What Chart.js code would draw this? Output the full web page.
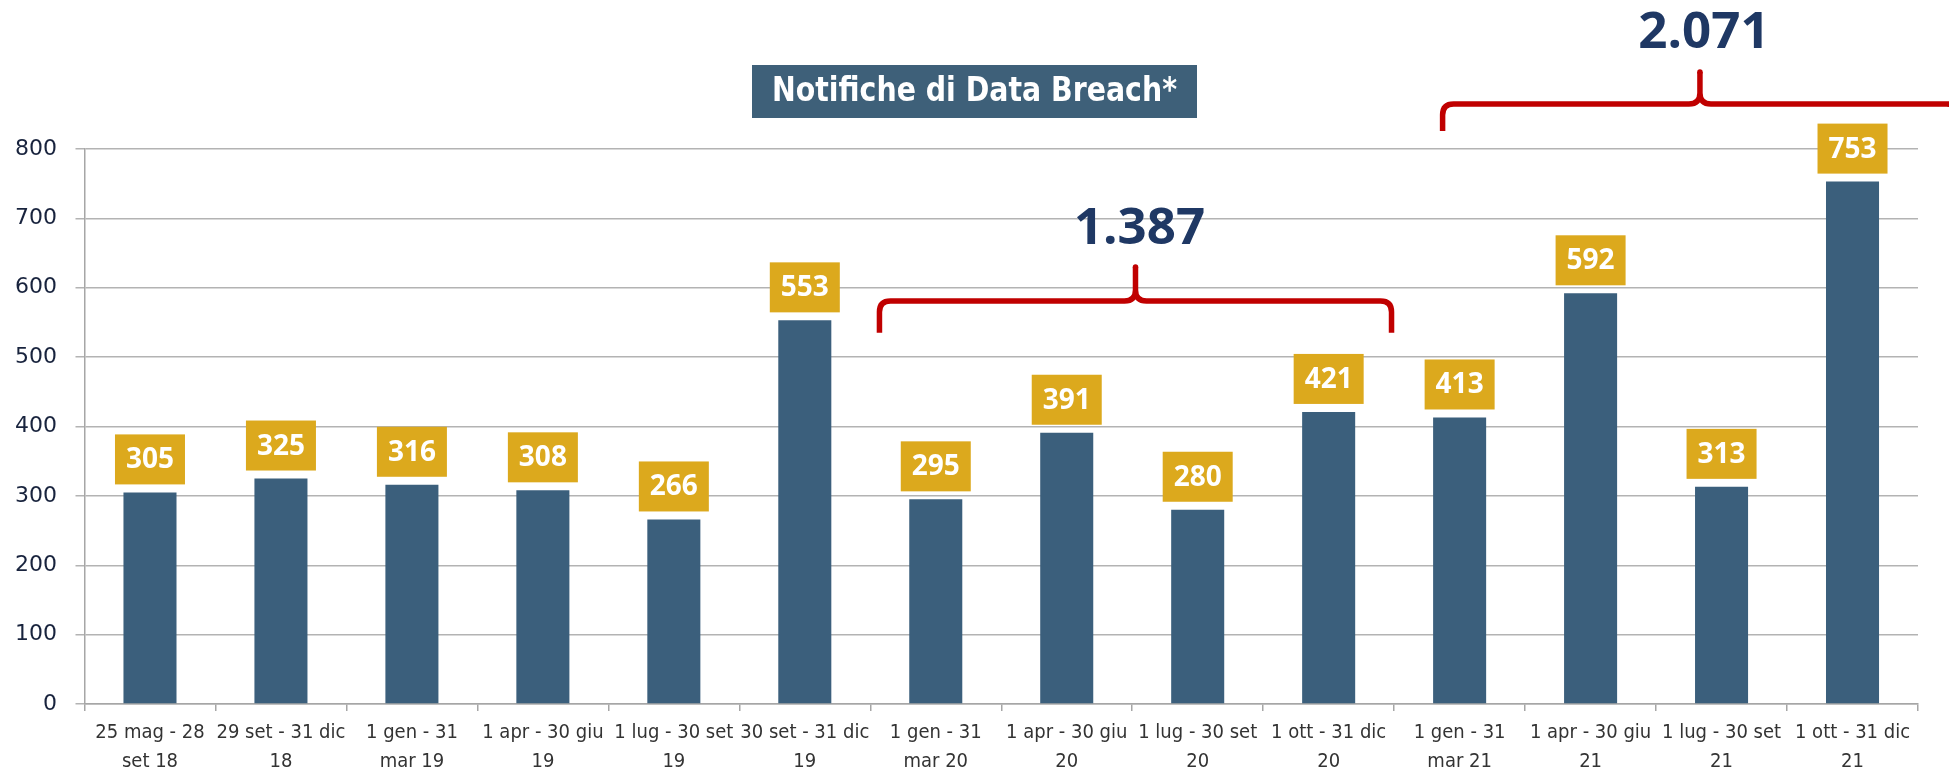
<!DOCTYPE html>
<html>
<head>
<meta charset="utf-8">
<script src="https://cdn.jsdelivr.net/npm/chart.js@4.4.1/dist/chart.umd.min.js"></script>
<style>
  html, body { margin: 0; padding: 0; background: #ffffff; }
  #wrap { width: 1949px; height: 771px; position: relative; }
</style>
</head>
<body>
<div id="wrap"><canvas id="chart"></canvas></div>
<script>
// ---------- DATA ----------
const categories = [
  ['25 mag - 28', 'set 18'],
  ['29 set - 31 dic', '18'],
  ['1 gen - 31', 'mar 19'],
  ['1 apr - 30 giu', '19'],
  ['1 lug - 30 set', '19'],
  ['30 set - 31 dic', '19'],
  ['1 gen - 31', 'mar 20'],
  ['1 apr - 30 giu', '20'],
  ['1 lug - 30 set', '20'],
  ['1 ott - 31 dic', '20'],
  ['1 gen - 31', 'mar 21'],
  ['1 apr - 30 giu', '21'],
  ['1 lug - 30 set', '21'],
  ['1 ott - 31 dic', '21']
];
const notifications = [305, 325, 316, 308, 266, 553, 295, 391, 280, 421, 413, 592, 313, 753];
const yTickValues = [0, 100, 200, 300, 400, 500, 600, 700, 800];
const chartTitle = 'Notifiche di Data Breach*';
// year groups summed by the brackets (category index ranges)
const groupStart = [6, 10];
const groupEnd = [9, 13];

// ---------- STYLE ----------
const BAR_COLOR = '#3b5f7c';
const LABEL_BG = '#dca91d';
const TITLE_BG = '#3e6079';
const BRACKET_COLOR = '#c00000';
const TOTAL_COLOR = '#1f3864';
const GRID_COLOR = '#b3b3b3';
const AXIS_COLOR = '#a6a6a6';
const NARROW = "'Liberation Sans Narrow','Arial Narrow','DejaVu Sans Condensed','Roboto',sans-serif";
// bracket geometry: horizontal offsets in categories, vertical positions in axis units
const bracketGeom = [
  { leftOff: -0.43, rightOff: 0.48, bottomV: 535, lineV: 581, tipV: 630, textV: 687 },
  { leftOff: -0.13, rightOff: 0.80, bottomV: 826, lineV: 865, tipV: 911, textV: 970 }
];

function fmtIt(n) {
  return String(n).replace(/\B(?=(\d{3})+(?!\d))/g, '.');
}

const overlay = {
  id: 'overlay',
  afterDatasetsDraw(chart) {
    const ctx = chart.ctx;
    const meta = chart.getDatasetMeta(0);
    const xs = chart.scales.x, ys = chart.scales.y;
    // value boxes
    ctx.save();
    meta.data.forEach((bar, i) => {
      const w = 70, h = 50, gap = 8;
      const bx = bar.x - w / 2, by = bar.y - gap - h;
      ctx.fillStyle = LABEL_BG;
      ctx.fillRect(bx, by, w, h);
      ctx.fillStyle = '#ffffff';
      ctx.font = "bold 28px 'Open Sans', sans-serif";
      ctx.textAlign = 'center';
      ctx.textBaseline = 'middle';
      ctx.fillText(String(notifications[i]), bar.x, by + h / 2 + 1);
    });
    ctx.restore();

    // brackets with totals
    const catW = xs.getPixelForValue(1) - xs.getPixelForValue(0);
    groupStart.forEach((s, g) => {
      const e = groupEnd[g];
      const geo = bracketGeom[g];
      const L = xs.getPixelForValue(s) + geo.leftOff * catW;
      const R = xs.getPixelForValue(e) + geo.rightOff * catW;
      const M = (L + R) / 2;
      const yb = ys.getPixelForValue(geo.bottomV);
      const yl = ys.getPixelForValue(geo.lineV);
      const yt = ys.getPixelForValue(geo.tipV);
      const r = 11, sft = 11;
      ctx.save();
      ctx.strokeStyle = BRACKET_COLOR;
      ctx.lineWidth = 5.5;
      ctx.lineJoin = 'round';
      ctx.lineCap = 'butt';
      ctx.beginPath();
      ctx.moveTo(L, yb);
      ctx.lineTo(L, yl + r);
      ctx.quadraticCurveTo(L, yl, L + r, yl);
      ctx.lineTo(M - sft, yl);
      ctx.quadraticCurveTo(M, yl, M, yl - sft);
      ctx.lineTo(M, yt);
      ctx.moveTo(M, yl - sft);
      ctx.quadraticCurveTo(M, yl, M + sft, yl);
      ctx.lineTo(R - r, yl);
      ctx.quadraticCurveTo(R, yl, R, yl + r);
      ctx.lineTo(R, yb);
      ctx.stroke();
      // round tip
      ctx.beginPath();
      ctx.fillStyle = BRACKET_COLOR;
      ctx.arc(M, yt, 2.75, 0, Math.PI * 2);
      ctx.fill();
      // total
      let total = 0;
      for (let k = s; k <= e; k++) total += notifications[k];
      ctx.fillStyle = TOTAL_COLOR;
      ctx.font = "bold 51px 'Open Sans', sans-serif";
      ctx.textAlign = 'center';
      ctx.textBaseline = 'middle';
      ctx.fillText(fmtIt(total), M + 4, ys.getPixelForValue(geo.textV) + 2);
      ctx.restore();
    });

    // title box
    ctx.save();
    const tw = 445, th = 53, ty = 65;
    const tx = chart.width / 2 - tw / 2;
    ctx.fillStyle = TITLE_BG;
    ctx.fillRect(tx, ty, tw, th);
    ctx.fillStyle = '#ffffff';
    ctx.font = "bold 33px " + NARROW;
    ctx.textBaseline = 'middle';
    ctx.textAlign = 'center';
    const mw = ctx.measureText(chartTitle).width;
    const target = 405;
    const sc = Math.min(1.15, target / mw);
    ctx.translate(chart.width / 2, ty + th / 2 + 1);
    ctx.scale(sc, 1);
    ctx.fillText(chartTitle, 0, 0);
    ctx.restore();
  }
};

const chart = new Chart(document.getElementById('chart'), {
  type: 'bar',
  data: {
    labels: categories,
    datasets: [{
      data: notifications,
      backgroundColor: BAR_COLOR,
      barPercentage: 0.405,
      categoryPercentage: 1.0
    }]
  },
  options: {
    responsive: true,
    maintainAspectRatio: false,
    animation: false,
    layout: { padding: { top: 149, right: 31, left: 0, bottom: 0 } },
    plugins: {
      legend: { display: false },
      tooltip: { enabled: false },
      title: { display: false }
    },
    scales: {
      x: {
        grid: {
          display: true, drawOnChartArea: false, drawTicks: true,
          tickLength: 7, color: AXIS_COLOR, lineWidth: 1.5, offset: true
        },
        border: { display: true, color: AXIS_COLOR, width: 1.5 },
        ticks: {
          autoSkip: false, maxRotation: 0, minRotation: 0, padding: 7.5,
          color: '#333333',
          font: { family: NARROW, size: 20, lineHeight: 1.45 }
        },
        afterFit(scale) { scale.height = 67; }
      },
      y: {
        min: 0, max: 800,
        afterBuildTicks(scale) { scale.ticks = yTickValues.map(v => ({ value: v })); },
        grid: { color: GRID_COLOR, lineWidth: 1.5, tickLength: 9, drawTicks: true },
        border: { display: true, color: AXIS_COLOR, width: 1.5 },
        ticks: {
          padding: 18.5, color: '#18233d',
          font: { family: "'DejaVu Sans', Verdana, sans-serif", size: 22 }
        },
        afterFit(scale) { scale.width = 84.5; }
      }
    }
  },
  plugins: [overlay]
});
</script>
</body>
</html>
